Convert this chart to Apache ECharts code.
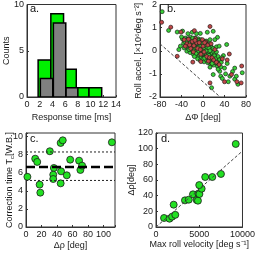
<!DOCTYPE html>
<html><head><meta charset="utf-8">
<script src="https://cdn.jsdelivr.net/npm/echarts@6/dist/echarts.min.js"></script>
<style>html,body{margin:0;padding:0;background:#fff}#c{width:258px;height:256px}</style>
</head><body><div id="c"></div>
<script>
// ---- Panel a: histogram ----
var histGreenLeft = [1.75, 3.75, 5.75, 7.75, 9.75];
var histGreenRight = [3.75, 5.75, 7.75, 9.75, 11.75];
var histGreenCounts = [4, 9, 3, 1, 1];
var histGrayLeft = [2.1, 4.15, 6.15];
var histGrayRight = [4.05, 6.1, 8.0];
var histGrayCounts = [2, 8, 1];

// ---- Panel b: scatter ----
var bGreen = [
[-38,0.5],[-36,0.32],[-35,0.12],[-33,0.55],[-32,0.42],[-31,0.2],[-30,-0.02],[-29,0.38],[-28,0.52],[-27,0.1],
[-26,0.28],[-25,0.45],[-24,-0.08],[-23,0.58],[-22,0.18],[-21,0.38],[-20,0.5],[-20,0.02],[-19,0.28],[-18,-0.15],
[-17,0.45],[-16,0.12],[-15,0.55],[-15,-0.05],[-14,0.32],[-13,0.5],[-12,-0.22],[-12,0.2],[-11,0.05],[-10,0.4],
[-10,-0.35],[-9,0.52],[-9,-0.1],[-8,0.25],[-7,0.1],[-7,0.45],[-6,-0.2],[-5,0.32],[-5,-0.42],[-4,0.05],
[-4,0.48],[-3,0.18],[-3,-0.28],[-2,0.38],[-1,-0.05],[-1,0.25],[0,-0.35],[0,0.1],[1,0.42],[1,-0.18],
[2,0.3],[2,-0.48],[3,0.0],[3,0.18],[4,-0.28],[4,0.38],[5,0.08],[5,-0.12],[6,0.28],[6,-0.4],
[7,-0.02],[7,0.15],[8,-0.25],[8,0.32],[9,-0.52],[9,0.05],[10,0.22],[10,-0.15],[11,-0.35],[12,0.1],
[12,-0.05],[13,-0.45],[13,0.25],[14,-0.2],[15,0.0],[15,-0.6],[16,0.15],[16,-0.32],[17,-0.1],[18,-0.48],
[18,0.05],[19,-0.25],[20,-0.62],[20,-0.05],[21,-0.38],[22,-0.15],[23,-0.52],[24,-0.28],[25,-0.05],[26,-0.45],
[27,-0.68],[28,-0.25],[30,-0.55],[31,-0.38],[33,-0.7],[34,-0.5],
[-34,0.4],[-30,0.45],[-26,0.05],[-24,0.35],[-22,0.48],[-18,0.35],[-17,0.0],[-14,0.15],[-13,-0.12],[-11,0.3],
[-8,0.45],[-8,0.0],[-6,0.2],[-6,0.4],[-3,0.4],[-2,0.05],[-2,-0.15],[0,0.32],[0,-0.1],[2,0.12],
[3,-0.32],[4,0.22],[6,0.0],[6,0.42],[8,0.15],[9,-0.3],[11,0.12],[11,-0.2],[13,0.0],[14,-0.35],
[17,-0.55],[19,0.1],[21,-0.22],[23,-0.35],[-16,-0.25],[-9,0.15],[-19,0.55],[-28,0.25],
[-76,1.69],[-64,0.88],[-48,0.81],[-28,0.74],[-12,0.74],[19,0.84],[27,0.58],[22,0.48],[13,0.48],[44,0.27],
[25,0.17],[-38,0.85],[38,-0.21],[59,-0.75],[73,-0.95],[13,-0.71],[19,-1.03],[31,-0.89],[59,-1.23],[47,-1.34],
[16,-1.6],[45,-0.55],[40,-0.75],[50,-1.1],[62,-1.1],[65,-1.45],[33,-1.1],[28,-0.8],[36,-1.2],[-42,0.2],
[-45,0.05],[-40,0.6],[30,0.2],[35,-0.3],[42,-1.0],[55,-0.9],[8,0.8],[-5,0.75],[-20,0.8]
];
var bRed = [
[-35,0.48],[-30,0.3],[-27,0.5],[-23,0.1],[-20,0.4],[-17,0.22],[-14,0.52],[-12,0.35],[-10,0.1],[-7,0.35],
[-4,-0.15],[-1,0.48],[0,0.2],[2,-0.05],[5,0.38],[7,-0.25],[9,0.25],[12,-0.3],[15,0.3],[17,-0.3],
[20,-0.4],[22,0.05],[25,-0.5],[-18,-0.05],[-25,0.25],[-5,0.05],[3,0.35],[10,-0.45],[-33,0.2],[-15,0.45],
[-77,1.23],[-60,1.02],[-41,0.81],[-16,0.87],[13,1.05],[-48,-0.24],[-19,-0.49],[-4,-0.47],[49,-0.14],[36,-0.35],
[72,-0.66],[53,-1.03],[63,-1.34],[71,-1.39],[40,-1.34],[13,-1.39],[30,-0.6],[45,-0.4]
];
var bLineX = [-80, 32];
var bLineY = [0.3, -2];

// ---- Panel c ----
var cX = [1.8, 11.9, 14.5, 17.6, 18.5, 30.8, 36, 35.2, 35.2, 44.8, 47.5, 45.3, 44.8, 52.7, 57.1, 68.6, 70.3, 72.5, 111];
var cY = [5.55, 7.56, 7.2, 4.69, 3.8, 8.38, 6.53, 5.79, 5.31, 9.3, 9.59, 6.16, 4.83, 5.72, 7.45, 7.34, 6.31, 6.79, 9.37];
var cMean = 6.65, cUpper = 8.3, cLower = 5.15;

// ---- Panel d ----
var dX = [930, 1560, 1860, 2230, 2045, 3350, 3790, 4275, 4700, 4850, 4900, 5020, 5280, 5000, 5690, 6510, 7510, 9220];
var dY = [11.5, 10.6, 13.2, 15.5, 28.5, 34.0, 34.9, 41.7, 34.5, 33.6, 42.6, 42.1, 48.9, 53.5, 63.8, 63.8, 67.7, 106];
var dLineX = [0, 10000];
var dLineY = [0, 97];

function pairs(xs, ys){ return xs.map(function(x,i){return [x, ys[i]];}); }

var FONT = 'Liberation Sans';
var TXT = '#1a1a1a';
var grids = [
  {left:27, top:3, width:89, height:94},
  {left:160, top:3, width:86, height:94},
  {left:26, top:133, width:89, height:94},
  {left:156, top:133, width:90, height:94}
].map(function(g){ g.show = true; g.borderColor = '#333'; g.borderWidth = 1; g.backgroundColor = 'transparent'; g.containLabel = false; return g; });

var xSpec = [
  {min:0, max:14, interval:2, name:'Response time [ms]', nameGap:16, fmt:function(v){return v;}},
  {min:-80, max:80, interval:40, name:'\u0394\u03A6 [deg]', nameGap:16, fmt:function(v){return v;}},
  {min:0, max:115, interval:20, name:'\u0394\u03C1 [deg]', nameGap:14, fmt:function(v){return v%20===0?v:'';}},
  {min:0, max:10000, interval:5000, name:'Max roll velocity [deg s\u207B\u00B9]', nameGap:13, fmt:function(v){return v;}}
];
var ySpec = [
  {min:0, max:10, interval:5, name:'Counts', nameGap:16, fmt:function(v){return v;}},
  {min:-2, max:2, interval:1, name:'Roll accel. [\u00D710\u2076deg s\u207B\u00B2]', nameGap:17, fmt:function(v){return v;}},
  {min:0, max:10.4, interval:2, name:'Correction time T{sub|c}[W.B.]', nameGap:11, fmt:function(v){return v%2===0?v:'';}},
  {min:0, max:120, interval:20, name:'\u0394\u03C1[deg]', nameGap:20, fmt:function(v){return v;}}
];
var lineStyle = {color:'#333', width:1};
var xAxes = [], yAxes = [];
for (var i=0;i<4;i++){
  var xs = xSpec[i], ys = ySpec[i];
  xAxes.push({type:'value', id:'x'+i, gridIndex:i, min:xs.min, max:xs.max, interval:xs.interval, position:'bottom',
    name:xs.name, nameLocation:'middle', nameGap:xs.nameGap, nameMoveOverlap:false,
    nameTextStyle:{fontFamily:FONT, fontSize:9, color:TXT},
    axisLine:{show:true, onZero:false, lineStyle:lineStyle},
    axisTick:{show:true, inside:true, length:2, lineStyle:lineStyle},
    axisLabel:{fontFamily:FONT, fontSize:9, color:TXT, margin:3, formatter:xs.fmt},
    splitLine:{show:false}});
  yAxes.push({type:'value', id:'y'+i, gridIndex:i, min:ys.min, max:ys.max, interval:ys.interval, position:'left',
    name:ys.name, nameLocation:'middle', nameGap:ys.nameGap, nameRotate:90, nameMoveOverlap:false,
    nameTextStyle:{fontFamily:FONT, fontSize:9, color:TXT, rich:{sub:{fontFamily:FONT, fontSize:6, color:TXT, padding:[4,0,0,0]}}},
    axisLine:{show:true, onZero:false, lineStyle:lineStyle},
    axisTick:{show:true, inside:true, length:2, lineStyle:lineStyle},
    axisLabel:{fontFamily:FONT, fontSize:9, color:TXT, margin:3, formatter:ys.fmt},
    splitLine:{show:false}});
}

function histSeries(lefts, rights, counts, fill){
  return {type:'custom', xAxisIndex:0, yAxisIndex:0, clip:true,
    data: lefts.map(function(l,i){return [l, rights[i], counts[i]];}),
    encode:{x:[0,1], y:2},
    renderItem:function(params, api){
      var p0 = api.coord([api.value(0), api.value(2)]);
      var p1 = api.coord([api.value(1), 0]);
      return {type:'rect', shape:{x:p0[0], y:p0[1], width:p1[0]-p0[0], height:p1[1]-p0[1]},
        style:{fill:fill, stroke:'#000', lineWidth:1.5}};
    }};
}

var series = [
  histSeries(histGreenLeft, histGreenRight, histGreenCounts, '#00f000'),
  histSeries(histGrayLeft, histGrayRight, histGrayCounts, '#808080'),
  {type:'line', xAxisIndex:1, yAxisIndex:1, data:pairs(bLineX, bLineY), symbol:'none',
    lineStyle:{color:'#444', width:1, type:[3,2]}, silent:true},
  {type:'scatter', xAxisIndex:1, yAxisIndex:1, data:bGreen, symbolSize:4,
    itemStyle:{color:'#38d038', borderColor:'#1a2a1a', borderWidth:0.7, opacity:1}},
  {type:'scatter', xAxisIndex:1, yAxisIndex:1, data:bRed, symbolSize:4,
    itemStyle:{color:'#c04848', borderColor:'#2a1a1a', borderWidth:0.7, opacity:1}},
  {type:'line', xAxisIndex:2, yAxisIndex:2, data:[[0,cUpper],[115,cUpper]], symbol:'none',
    lineStyle:{color:'#222', width:1, type:[2,2]}},
  {type:'line', xAxisIndex:2, yAxisIndex:2, data:[[0,cLower],[115,cLower]], symbol:'none',
    lineStyle:{color:'#222', width:1, type:[2,2]}},
  {type:'line', xAxisIndex:2, yAxisIndex:2, data:[[0,cMean],[115,cMean]], symbol:'none',
    lineStyle:{color:'#000', width:2.5, type:[9,4]}},
  {type:'scatter', xAxisIndex:2, yAxisIndex:2, data:pairs(cX, cY), symbolSize:7,
    itemStyle:{color:'#22e022', borderColor:'#1a1a1a', borderWidth:0.8, opacity:1}},
  {type:'line', xAxisIndex:3, yAxisIndex:3, data:pairs(dLineX, dLineY), symbol:'none',
    lineStyle:{color:'#444', width:1, type:[3,2]}},
  {type:'scatter', xAxisIndex:3, yAxisIndex:3, data:pairs(dX, dY), symbolSize:7,
    itemStyle:{color:'#22e022', borderColor:'#1a1a1a', borderWidth:0.8, opacity:1}}
];

var panelLabels = [
  {text:'a.', x:30, y:3},
  {text:'b.', x:167, y:3},
  {text:'c.', x:30, y:133},
  {text:'d.', x:161, y:133}
];

var chart = echarts.init(document.getElementById('c'), null, {renderer:'canvas'});
chart.setOption({
  animation:false,
  grid:grids,
  xAxis:xAxes,
  yAxis:yAxes,
  series:series,
  graphic: panelLabels.map(function(p){
    return {type:'text', left:p.x, top:p.y, z:100,
      style:{text:p.text, font:'11px "Liberation Sans"', fill:'#111'}};
  })
});
</script></body></html>
